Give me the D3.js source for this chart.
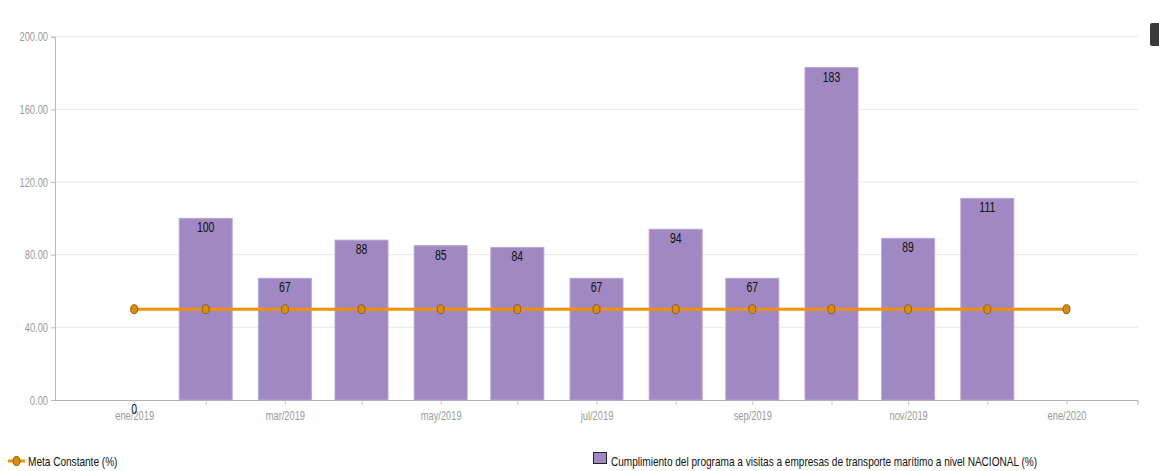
<!DOCTYPE html>
<html>
<head>
<meta charset="utf-8">
<script src="https://cdn.jsdelivr.net/npm/d3@7/dist/d3.min.js"></script>
<style>
  html, body { margin: 0; padding: 0; background: #fff; }
  svg { display: block; }
  text { font-family: "Liberation Sans", Arial, sans-serif; }
</style>
</head>
<body>
<svg id="chart" width="1159" height="471"></svg>
<script>
// Reporting months (each value is recorded at the month's closing date)
const months = ["2019-01", "2019-02", "2019-03", "2019-04", "2019-05", "2019-06",
                "2019-07", "2019-08", "2019-09", "2019-10", "2019-11", "2019-12"];
// Compliance of the visit programme (%)
const cumplimiento = [0, 100, 67, 88, 85, 84, 67, 94, 67, 183, 89, 111];
// Constant target line, runs one month further
const metaMonths = [...months, "2020-01"];
const metaValues = [50, 50, 50, 50, 50, 50, 50, 50, 50, 50, 50, 50, 50];
const yTicks = [0, 40, 80, 120, 160, 200];
const monthNames = ["ene", "feb", "mar", "abr", "may", "jun", "jul", "ago", "sep", "oct", "nov", "dic"];

// "2019-03" -> last day of March 2019
const monthEnd = s => {
  const [yy, mm] = s.split("-").map(Number);
  return new Date(yy, mm, 0);
};
const svg = d3.select("#chart");

const plot = { left: 55, right: 1138, top: 36.7, bottom: 400 };

const x = d3.scaleTime()
  .domain([new Date(2018, 11, 31), new Date(2020, 1, 28)])
  .range([plot.left, plot.right]);
const y = d3.scaleLinear().domain([0, 200]).range([plot.bottom, plot.top]);

// Horizontal grid
svg.append("g")
  .selectAll("line")
  .data(yTicks.filter(d => d > 0))
  .join("line")
  .attr("x1", plot.left).attr("x2", plot.right)
  .attr("y1", d => y(d)).attr("y2", d => y(d))
  .attr("stroke", "#e8e8e8").attr("stroke-width", 1);

// Y axis
const yAxis = svg.append("g")
  .attr("transform", `translate(${plot.left},0)`)
  .call(d3.axisLeft(y).tickValues(yTicks).tickFormat(d3.format(".2f")).tickSize(4).tickPadding(3));
yAxis.select(".domain").attr("stroke", "#b8b8b8");
yAxis.selectAll(".tick line").attr("stroke", "#b8b8b8");
yAxis.selectAll("text").attr("fill", "#9a9a9a").style("font-size", "12.5px").classed("cond", true);

// X axis: a tick every month, label every two months
const tickDates = metaMonths.map(monthEnd);
const xAxis = svg.append("g")
  .attr("transform", `translate(0,${plot.bottom})`)
  .call(d3.axisBottom(x).tickValues(tickDates).tickSize(5).tickPadding(6)
    .tickFormat((d, i) => i % 2 === 0 ? monthNames[d.getMonth()] + "/" + d.getFullYear() : ""));
xAxis.select(".domain").attr("stroke", "#b0b0b0").attr("d", `M${plot.left},0.5H${plot.right}V5`);
xAxis.selectAll(".tick line").attr("stroke", "#c8c8c8");
xAxis.selectAll("text").attr("fill", "#9a9a9a").style("font-size", "12.5px").classed("cond", true);

// Bars
const barW = 53;
const bars = months.map((m, i) => ({ date: monthEnd(m), value: cumplimiento[i] }));
svg.append("g")
  .selectAll("rect")
  .data(bars)
  .join("rect")
  .attr("x", d => x(d.date) - barW / 2)
  .attr("y", d => y(d.value))
  .attr("width", barW)
  .attr("height", d => y(0) - y(d.value))
  .attr("fill", "#a088c2")
  .attr("stroke", "#b9a6d4")
  .attr("stroke-width", d => d.value > 0 ? 1 : 0);

// Value labels inside the top of each bar
svg.append("g")
  .selectAll("text")
  .data(bars)
  .join("text")
  .attr("class", "cond")
  .attr("x", d => x(d.date))
  .attr("y", d => y(d.value) + 14)
  .attr("text-anchor", "middle")
  .attr("fill", "#111")
  .style("font-size", "14px")
  .text(d => d.value);

// Target line
const meta = metaMonths.map((m, i) => ({ date: monthEnd(m), value: metaValues[i] }));
svg.append("path")
  .datum(meta)
  .attr("fill", "none")
  .attr("stroke", "#f39200")
  .attr("stroke-width", 3)
  .attr("d", d3.line().x(d => x(d.date)).y(d => y(d.value)));
svg.append("g")
  .selectAll("ellipse")
  .data(meta)
  .join("ellipse")
  .attr("cx", d => x(d.date))
  .attr("cy", d => y(d.value))
  .attr("rx", 3.5).attr("ry", 4.5)
  .attr("fill", "#d88c10")
  .attr("stroke", "#8a6010")
  .attr("stroke-width", 1);

// Legend
const lg = svg.append("g");
lg.append("line").attr("x1", 8).attr("x2", 25).attr("y1", 461).attr("y2", 461)
  .attr("stroke", "#f39200").attr("stroke-width", 3);
lg.append("ellipse").attr("cx", 16.5).attr("cy", 461).attr("rx", 3.5).attr("ry", 4.5)
  .attr("fill", "#d88c10").attr("stroke", "#8a6010");
lg.append("text").attr("class", "cond").attr("x", 28).attr("y", 466)
  .attr("fill", "#111").style("font-size", "13.5px")
  .text("Meta Constante (%)");
lg.append("rect").attr("x", 593.5).attr("y", 452.5).attr("width", 13).attr("height", 11)
  .attr("fill", "#a088c2").attr("stroke", "#222").attr("stroke-width", 1);
lg.append("text").attr("class", "cond").attr("x", 611).attr("y", 466)
  .attr("fill", "#111").style("font-size", "13.5px")
  .text("Cumplimiento del programa a visitas a empresas de transporte marítimo a nivel NACIONAL (%)");

// Condensed lettering: squeeze each label horizontally
svg.selectAll("text.cond").each(function () {
  const w = this.getComputedTextLength();
  if (w > 0) {
    d3.select(this).attr("textLength", w * 0.745).attr("lengthAdjust", "spacingAndGlyphs");
  }
});

// Toolbar handle at top-right edge
svg.append("rect").attr("x", 1150).attr("y", 23).attr("width", 11).attr("height", 23)
  .attr("rx", 2).attr("fill", "#3a3a3a");
</script>
</body>
</html>
